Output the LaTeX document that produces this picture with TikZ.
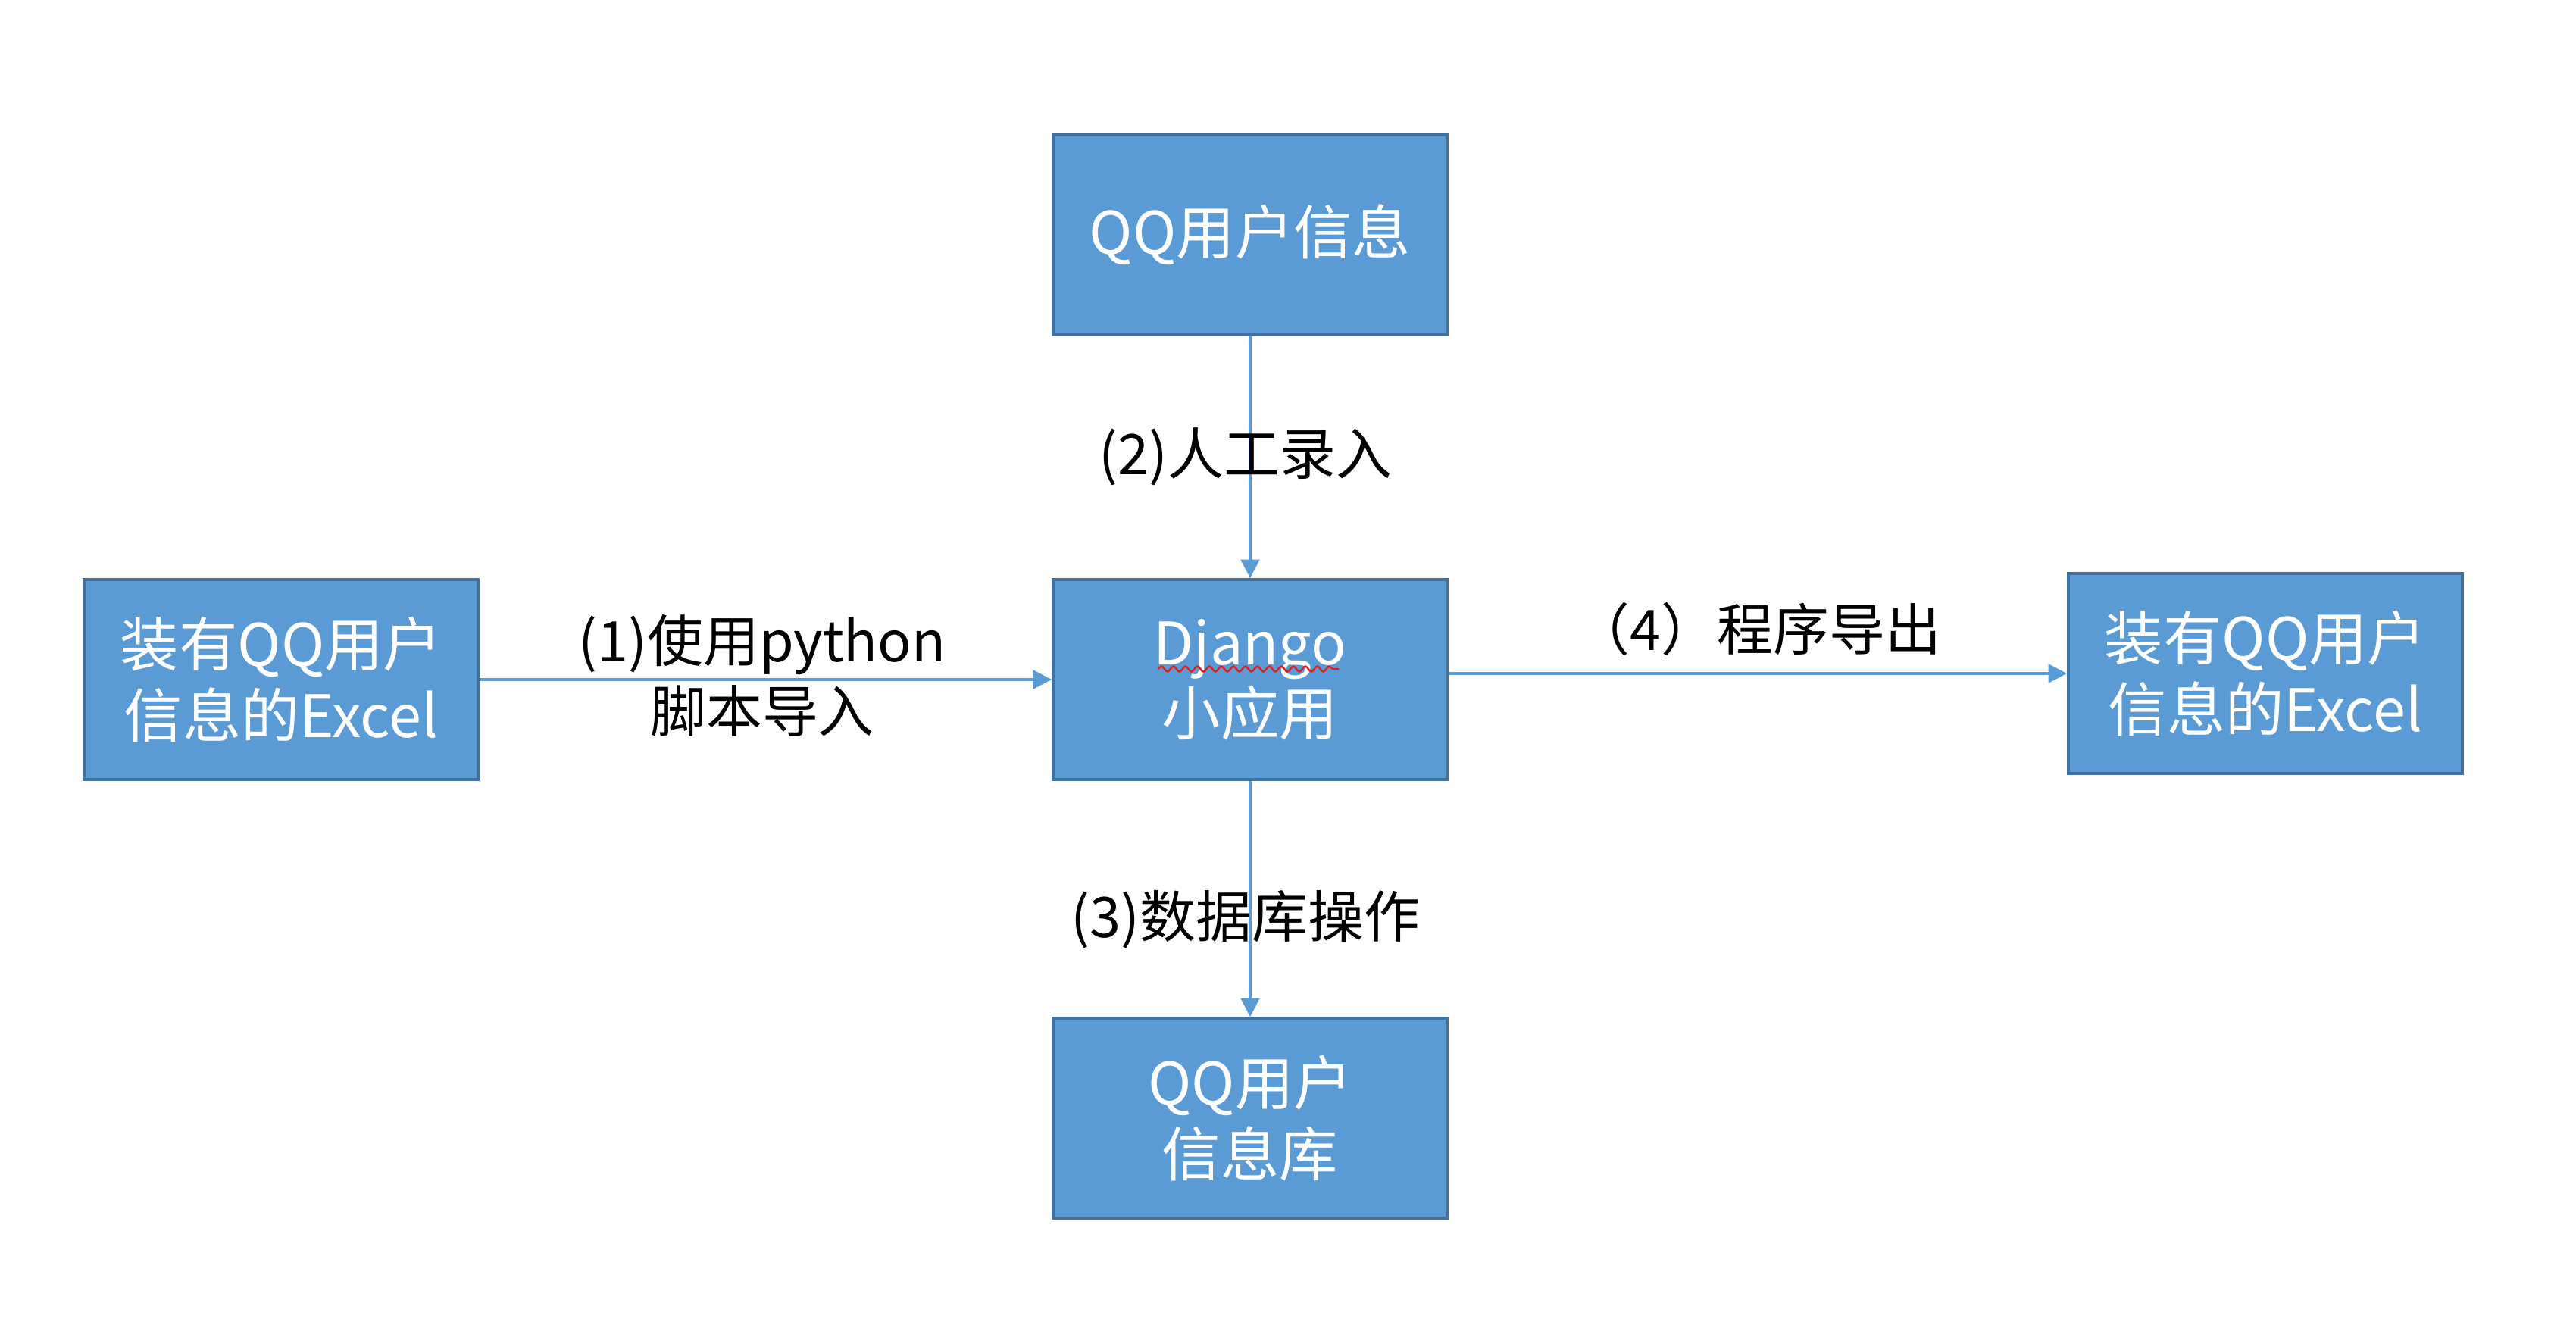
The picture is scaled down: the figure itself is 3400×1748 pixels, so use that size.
\documentclass[tikz,border=0pt]{standalone}
\usepackage{fontspec}
\setmainfont{Noto Sans CJK SC}
\usetikzlibrary{arrows.meta,decorations.pathmorphing}
\definecolor{boxfill}{HTML}{5B9BD5}
\definecolor{boxline}{HTML}{41719C}
\definecolor{wavered}{HTML}{E02020}
\tikzset{
  blockbox/.style={draw=boxline, line width=1pt, fill=boxfill, text=white,
    minimum width=5.2cm, minimum height=2.64cm, inner sep=0pt, align=center,
    font=\fontsize{22}{26.5}\selectfont},
  flowlabel/.style={text=black, inner sep=0pt, align=center,
    font=\fontsize{21}{26.5}\selectfont},
  flowarrow/.style={draw=boxfill, line width=1pt, -{Triangle[width=7pt,length=7pt]}}
}
\begin{document}
\begin{tikzpicture}[x=0.01cm,y=-0.01cm]
\useasboundingbox (0,0) rectangle (3400,1748);
\node[blockbox] (info) at (1650,310) {QQ用户信息};
\node[blockbox] (django) at (1650,897) {Django\\小应用};
\node[blockbox] (db) at (1650,1476) {QQ用户\\信息库};
\node[blockbox] (excelin) at (371,897) {装有QQ用户\\信息的Excel};
\node[blockbox] (excelout) at (2990,889) {装有QQ用户\\信息的Excel};

\draw[flowarrow] (info.south) -- (django.north);
\draw[flowarrow] (excelin.east) -- (django.west);
\draw[flowarrow] (django.east |- excelout.west) -- (excelout.west);
\draw[flowarrow] (django.south) -- (db.north);

\node[flowlabel] (l2) at (1644,603) {(2)人工录入};
\node[flowlabel] (l1) at (1006,892) {(1)使用python\\脚本导入};
\node[flowlabel] (l4) at (2320,830) {（4）程序导出};
\node[flowlabel] (l3) at (1644,1214) {(3)数据库操作};

\coordinate (wa) at (1528,883);
\coordinate (wb) at (1767,883);
\draw[wavered, line width=0.7pt, decorate, decoration={snake, amplitude=1pt, segment length=4.5pt}] (wa) -- (wb);
\end{tikzpicture}
\end{document}
